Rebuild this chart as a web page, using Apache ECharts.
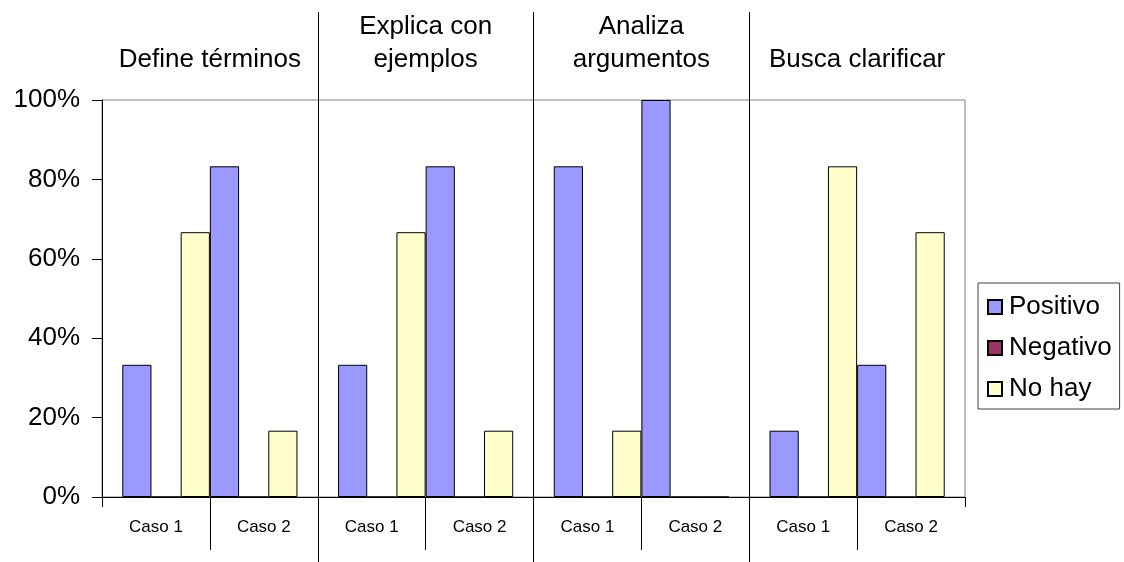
<!DOCTYPE html>
<html>
<head>
<meta charset="utf-8">
<script src="https://cdn.jsdelivr.net/npm/echarts@6/dist/echarts.min.js"></script>
<style>
  html, body { margin: 0; padding: 0; background: #fff; }
  #chart { width: 1124px; height: 562px; }
</style>
</head>
<body>
<div id="chart"></div>
<script>
// Skills observed per case, share of answers (%)
const groups = ['Define términos', 'Explica con\nejemplos', 'Analiza\nargumentos', 'Busca clarificar'];
const casos = ['Caso 1', 'Caso 2'];
const yTicks = [0, 20, 40, 60, 80, 100];

const positivoCaso1 = [33.3, 33.3, 83.3, 16.7];
const negativoCaso1 = [0, 0, 0, 0];
const noHayCaso1 = [66.7, 66.7, 16.7, 83.3];
const positivoCaso2 = [83.3, 83.3, 100, 33.3];
const negativoCaso2 = [0, 0, 0, 0];
const noHayCaso2 = [16.7, 16.7, 0, 66.7];

const FONT = "'Liberation Sans', Arial, sans-serif";
const colors = { 'Positivo': '#9999FF', 'Negativo': '#993366', 'No hay': '#FFFFCC' };

// one label per case under each group
const casoLabels = [];
groups.forEach(() => casos.forEach(c => casoLabels.push(c)));
// helper axes whose ticks sit on the group / case boundaries
const groupEdges = Array.from({ length: groups.length + 1 }, (_, i) => 'g' + i);
const casoEdges = Array.from({ length: casoLabels.length + 1 }, (_, i) => 'c' + i);
const innerGroupEdge = (i) => i > 0 && i < groups.length;
const midCasoEdge = (i) => i % 2 === 1;

function bar(name, data) {
  return {
    type: 'bar', name, data, xAxisIndex: 0, yAxisIndex: 0,
    barGap: '0%', barCategoryGap: '18.8%',
    itemStyle: { color: colors[name], borderColor: '#000', borderWidth: 1 },
    emphasis: { disabled: true }
  };
}

const chart = echarts.init(document.getElementById('chart'));
chart.setOption({
  animation: false,
  textStyle: { fontFamily: FONT },
  grid: { left: 102, right: 159, top: 100, bottom: 65, show: true, borderColor: '#808080', borderWidth: 1, backgroundColor: 'transparent' },
  legend: {
    data: ['Positivo', 'Negativo', 'No hay'],
    orient: 'vertical', left: 978, top: 283,
    padding: [9, 8, 5, 9], itemGap: 11,
    itemWidth: 14, itemHeight: 14, icon: 'rect',
    borderColor: '#404040', borderWidth: 1,
    selectedMode: false,
    textStyle: { fontFamily: FONT, fontSize: 26, color: '#000', lineHeight: 30, padding: [0, 0, 0, 2] }
  },
  xAxis: [
    { // bars, one band per group
      type: 'category', data: groups, position: 'bottom', boundaryGap: true,
      axisLine: { lineStyle: { color: '#000', width: 1 } },
      axisTick: { show: true, interval: 0, length: 10, lineStyle: { color: '#000' } },
      axisLabel: { show: false }, splitLine: { show: false }
    },
    { // case labels
      type: 'category', data: casoLabels, position: 'bottom', boundaryGap: true,
      axisLine: { show: false }, axisTick: { show: false },
      axisLabel: { interval: 0, margin: 22, fontSize: 17, color: '#000', fontFamily: FONT },
      splitLine: { show: false }
    },
    { // divider between Caso 1 and Caso 2
      type: 'category', data: casoEdges, position: 'bottom', boundaryGap: false,
      axisLine: { show: false },
      axisTick: { show: true, interval: midCasoEdge, length: 53, lineStyle: { color: '#000' } },
      axisLabel: { show: false }, splitLine: { show: false }
    },
    { // group dividers below the plot and across it
      type: 'category', data: groupEdges, position: 'bottom', boundaryGap: false,
      axisLine: { show: false },
      axisTick: { show: true, interval: innerGroupEdge, length: 65, lineStyle: { color: '#000' } },
      axisLabel: { show: false },
      splitLine: { show: true, interval: innerGroupEdge, lineStyle: { color: '#000', width: 1 } }
    },
    { // group dividers above the plot
      type: 'category', data: groupEdges, position: 'top', boundaryGap: false,
      axisLine: { show: false },
      axisTick: { show: true, interval: innerGroupEdge, length: 88, lineStyle: { color: '#000' } },
      axisLabel: { show: false }, splitLine: { show: false }
    },
    { // group titles
      type: 'category', data: groups, position: 'top', boundaryGap: true,
      axisLine: { show: false }, axisTick: { show: false },
      axisLabel: { interval: 0, margin: 24, fontSize: 26, lineHeight: 33, color: '#000', fontFamily: FONT, align: 'center' },
      splitLine: { show: false }
    }
  ],
  yAxis: {
    type: 'value', min: yTicks[0], max: yTicks[yTicks.length - 1], interval: 20,
    axisLine: { show: true, lineStyle: { color: '#000', width: 1 } },
    axisTick: { show: true, length: 10, lineStyle: { color: '#000' } },
    axisLabel: { formatter: '{value}%', fontSize: 26, color: '#000', margin: 22, fontFamily: FONT },
    splitLine: { show: false }
  },
  series: [
    bar('Positivo', positivoCaso1),
    bar('Negativo', negativoCaso1),
    bar('No hay', noHayCaso1),
    bar('Positivo', positivoCaso2),
    bar('Negativo', negativoCaso2),
    bar('No hay', noHayCaso2)
  ]
});
</script>
</body>
</html>
